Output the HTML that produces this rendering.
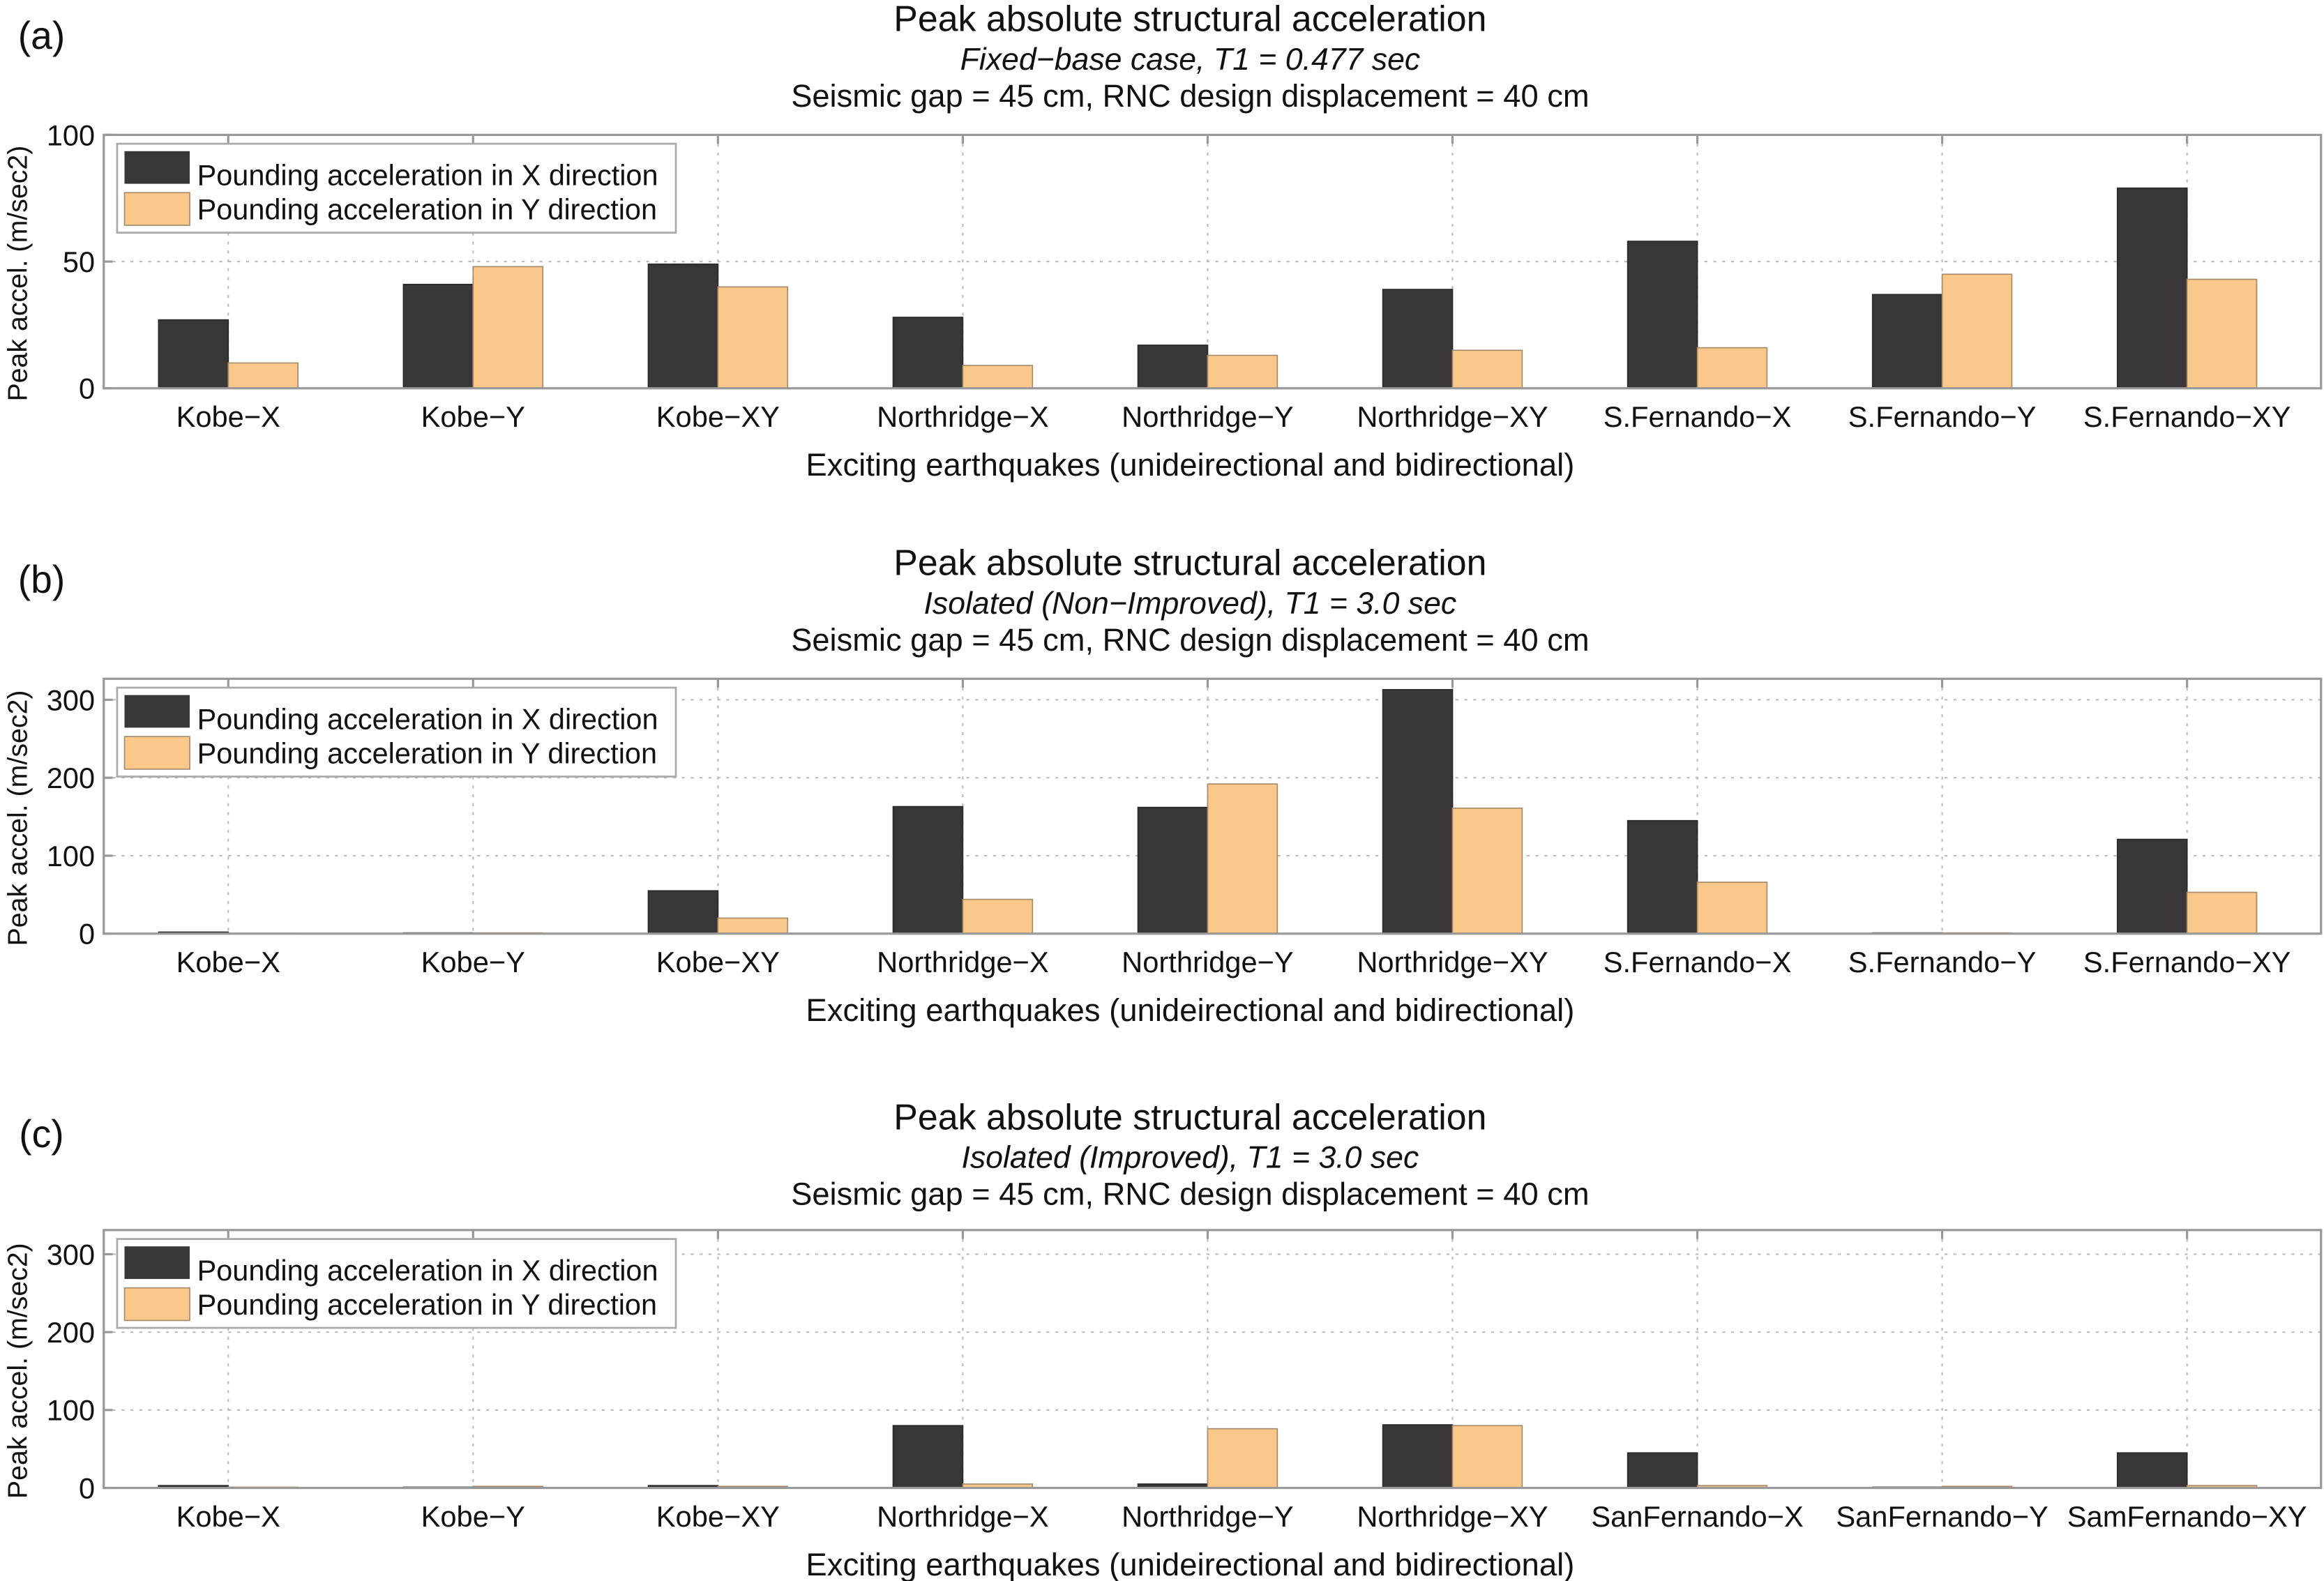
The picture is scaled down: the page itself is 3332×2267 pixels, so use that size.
<!DOCTYPE html>
<html><head><meta charset="utf-8"><style>
html,body{margin:0;padding:0;background:#fff;}
svg{display:block;}
text{font-family:"Liberation Sans",sans-serif;fill:#111;}
</style></head><body>
<svg id="chart" width="3332" height="2267" viewBox="0 0 1568 1066.8" preserveAspectRatio="none" xmlns="http://www.w3.org/2000/svg"></svg>
<script>
const catsA = ["Kobe\u2212X","Kobe\u2212Y","Kobe\u2212XY","Northridge\u2212X","Northridge\u2212Y","Northridge\u2212XY","S.Fernando\u2212X","S.Fernando\u2212Y","S.Fernando\u2212XY"];
const catsC = ["Kobe\u2212X","Kobe\u2212Y","Kobe\u2212XY","Northridge\u2212X","Northridge\u2212Y","Northridge\u2212XY","SanFernando\u2212X","SanFernando\u2212Y","SamFernando\u2212XY"];
const xValsA = [27,41,49,28,17,39,58,37,79];
const yValsA = [10,48,40,9,13,15,16,45,43];
const xValsB = [2,1,55,163,162,313,145,1,121];
const yValsB = [0.5,1,20,44,192,161,66,1,53];
const xValsC = [3,1,3,80,5,81,45,1,45];
const yValsC = [1,2,2,5,76,80,3,2,3];
const ticksA = [0,50,100];
const ticksB = [0,100,200,300];
const ticksC = [0,100,200,300];
const subtitles = ["Fixed\u2212base case, T1 = 0.477 sec","Isolated (Non\u2212Improved), T1 = 3.0 sec","Isolated (Improved), T1 = 3.0 sec"];

const NS="http://www.w3.org/2000/svg";
const svg=document.getElementById('chart');
function mk(tag,attrs,parent){const e=document.createElementNS(NS,tag);for(const k in attrs)e.setAttribute(k,attrs[k]);(parent||svg).appendChild(e);return e;}
function txt(s,attrs,parent){const e=mk('text',attrs,parent);e.textContent=s;return e;}

const L=70,R=1566,C0=154,STEP=165.2,BW=47;
const panels=[
 {letter:"(a)",off:0,top:91,bottom:262,ymax:100,ticks:ticksA,xs:xValsA,ys:yValsA,cats:catsA},
 {letter:"(b)",off:367,top:458,bottom:630,ymax:327,ticks:ticksB,xs:xValsB,ys:yValsB,cats:catsA},
 {letter:"(c)",off:741,top:830,bottom:1004,ymax:331,ticks:ticksC,xs:xValsC,ys:yValsC,cats:catsC}
];
panels.forEach((p,pi)=>{
  const g=mk('g',{});
  
  
  const yS=v=>p.bottom-(v/p.ymax)*(p.bottom-p.top);
  const xS=i=>C0+i*STEP;
  let t=txt(p.letter,{x:28,y:p.off+33,'font-size':26,'text-anchor':'middle'},g);
  
  t=txt("Peak absolute structural acceleration",{x:803,y:p.off+21,'font-size':24.4,'text-anchor':'middle'},g);
  
  t=txt(subtitles[pi],{x:803,y:p.off+47,'font-size':21,'font-style':'italic','text-anchor':'middle'},g);
  
  t=txt("Seismic gap = 45 cm, RNC design displacement = 40 cm",{x:803,y:p.off+72,'font-size':21.3,'text-anchor':'middle'},g);
  
  p.ticks.forEach(v=>{
    const y=yS(v);
    if(v>0&&v<p.ymax){const l=mk('line',{x1:L,x2:R,y1:y,y2:y,stroke:'#bbb','stroke-width':1,'stroke-dasharray':'2,4'},g);
      }
    const tk=mk('line',{x1:L,x2:L+6,y1:y,y2:y,stroke:'#999','stroke-width':1.5},g);
    
    const tl=txt(String(v),{x:L-6,y:y+7,'font-size':19.5,'text-anchor':'end'},g);
    
  });
  p.cats.forEach((c,i)=>{
    const x=xS(i);
    const l=mk('line',{x1:x,x2:x,y1:p.top,y2:p.bottom,stroke:'#bbb','stroke-width':1,'stroke-dasharray':'2,4'},g);
    
    const tk=mk('line',{x1:x,x2:x,y1:p.top,y2:p.top+6,stroke:'#999','stroke-width':1.5},g);
    
    const tl=txt(c,{x:x,y:p.bottom+26,'font-size':19.6,'text-anchor':'middle'},g);
    
  });
  p.cats.forEach((c,i)=>{
    const x=xS(i);
    const bx=mk('rect',{x:x-BW,y:yS(p.xs[i]),width:BW,height:p.bottom-yS(p.xs[i]),fill:'#383637',stroke:'#2a2a2a','stroke-width':0.8},g);
    
    const by=mk('rect',{x:x,y:yS(p.ys[i]),width:BW,height:p.bottom-yS(p.ys[i]),fill:'#f9c88a',stroke:'#a88c6a','stroke-width':0.8},g);
    
  });
  const fr=mk('rect',{x:L,y:p.top,width:R-L,height:p.bottom-p.top,fill:'none',stroke:'#999','stroke-width':1.5},g);
  
  const lg=mk('g',{},g);
  
  const lt=p.top+6;
  mk('rect',{x:79,y:lt,width:377,height:60,fill:'#fff',stroke:'#aaa','stroke-width':1.3},lg);
  const s1=mk('rect',{x:84,y:lt+5,width:44,height:22,fill:'#383637'},lg);
  
  const s2=mk('rect',{x:84,y:lt+33,width:44,height:22,fill:'#f9c88a',stroke:'#a88c6a','stroke-width':0.8},lg);
  
  t=txt("Pounding acceleration in X direction",{x:133,y:lt+28,'font-size':19.5},lg);
  
  t=txt("Pounding acceleration in Y direction",{x:133,y:lt+51,'font-size':19.5},lg);
  
  t=txt("Exciting earthquakes (unideirectional and bidirectional)",{x:803,y:p.bottom+59,'font-size':21.4,'text-anchor':'middle'},g);
  
  const cy=(p.top+p.bottom)/2;
  t=txt("Peak accel. (m/sec2)",{x:0,y:0,'font-size':18.5,'text-anchor':'middle',transform:`translate(18,${cy+8}) rotate(-90)`},g);
  
});
</script>
</body></html>
